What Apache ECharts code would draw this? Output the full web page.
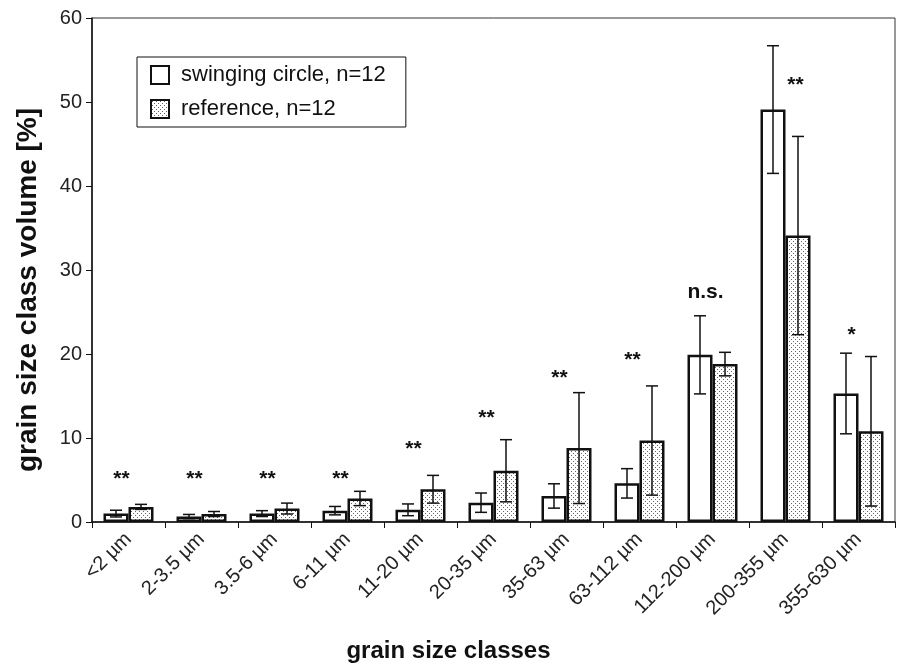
<!DOCTYPE html>
<html>
<head>
<meta charset="utf-8">
<script src="https://cdn.jsdelivr.net/npm/echarts@6/dist/echarts.min.js"></script>
<style>
  html, body { margin: 0; padding: 0; background: #fff; }
  #chart { width: 897px; height: 664px; }
</style>
</head>
<body>
<div id="chart"></div>
<script>
// grain size classes and group means / standard deviations (%)
const categories = ['<2 µm', '2-3.5 µm', '3.5-6 µm', '6-11 µm', '11-20 µm', '20-35 µm',
  '35-63 µm', '63-112 µm', '112-200 µm', '200-355 µm', '355-630 µm']
const swingingMean = [1.0, 0.65, 1.0, 1.35, 1.45, 2.3, 3.1, 4.6, 19.9, 49.1, 15.3]
const swingingSd = [0.4, 0.25, 0.35, 0.5, 0.7, 1.15, 1.45, 1.75, 4.65, 7.6, 4.8]
const referenceMean = [1.8, 0.95, 1.6, 2.8, 3.9, 6.1, 8.8, 9.7, 18.8, 34.1, 10.8]
const referenceSd = [0.3, 0.3, 0.65, 0.85, 1.65, 3.7, 6.6, 6.5, 1.4, 11.8, 8.9]
// significance marks and the height they sit at
const sigLabels = ['**', '**', '**', '**', '**', '**', '**', '**', 'n.s.', '**', '*']
const sigY = [5.4, 5.4, 5.4, 5.4, 9.0, 12.7, 17.5, 19.6, 27.3, 52.4, 22.6]
const yTicks = [0, 10, 20, 30, 40, 50, 60]

const FONT = 'Liberation Sans, Arial, sans-serif'
const BAR_W = 25

// dotted fill for the reference bars
const dots = document.createElement('canvas')
dots.width = 4
dots.height = 4
const ctx = dots.getContext('2d')
ctx.fillStyle = '#fff'
ctx.fillRect(0, 0, 4, 4)
ctx.fillStyle = '#666'
ctx.fillRect(1, 1, 1, 1)
ctx.fillRect(3, 3, 1, 1)

const errData = []
swingingMean.forEach((m, i) => errData.push([i, m, swingingSd[i], -1]))
referenceMean.forEach((m, i) => errData.push([i, m, referenceSd[i], 1]))

const sigData = sigLabels.map((s, i) => [i, sigY[i], s])

function renderErrorBar (params, api) {
  const i = api.value(0)
  const mean = api.value(1)
  const sd = api.value(2)
  const side = api.value(3)
  const x = api.coord([i, mean])[0] + side * BAR_W / 2
  const yTop = api.coord([i, mean + sd])[1]
  const yBot = api.coord([i, mean - sd])[1]
  const cap = 6
  const style = { stroke: '#111', lineWidth: 1.5 }
  return {
    type: 'group',
    children: [
      { type: 'line', shape: { x1: x, y1: yTop, x2: x, y2: yBot }, style },
      { type: 'line', shape: { x1: x - cap, y1: yTop, x2: x + cap, y2: yTop }, style },
      { type: 'line', shape: { x1: x - cap, y1: yBot, x2: x + cap, y2: yBot }, style }
    ]
  }
}

function renderSig (params, api) {
  const i = api.value(0)
  const txt = sigLabels[i]
  const pt = api.coord([i, api.value(1)])
  // the big class has its stars beside the tall error bar
  const dx = i === 9 ? 10 : -7
  const dy = txt === 'n.s.' ? 0 : 3
  return {
    type: 'text',
    x: pt[0] + dx,
    y: pt[1] + dy,
    style: {
      text: txt,
      fill: '#111',
      font: 'bold 21px ' + FONT,
      align: 'center',
      verticalAlign: 'middle'
    }
  }
}

const chart = echarts.init(document.getElementById('chart'))
chart.setOption({
  backgroundColor: '#fff',
  animation: false,
  grid: {
    left: 92, right: 2, top: 18, bottom: 142,
    outerBoundsMode: 'none',
    containLabel: false,
    show: true, borderColor: '#333', borderWidth: 1
  },
  legend: {
    data: ['swinging circle, n=12', 'reference, n=12'],
    orient: 'vertical',
    left: 137,
    top: 57,
    padding: [7, 20, 7, 13],
    itemWidth: 18,
    itemHeight: 18,
    itemGap: 12,
    borderColor: '#111',
    borderWidth: 1,
    icon: 'rect',
    textStyle: { fontSize: 22, fontFamily: FONT, color: '#111', padding: [0, 0, 0, 7] }
  },
  xAxis: {
    type: 'category',
    data: categories,
    axisLine: { lineStyle: { color: '#111', width: 1.5 } },
    axisTick: { show: true, alignWithLabel: false, length: 6, lineStyle: { color: '#111' } },
    axisLabel: {
      interval: 0, rotate: 45, fontSize: 20, fontFamily: FONT, color: '#222', margin: 14
    },
    name: 'grain size classes',
    nameLocation: 'middle',
    nameGap: 117,
    nameTextStyle: {
      fontSize: 24, fontWeight: 'bold', fontFamily: FONT, color: '#111', padding: [0, 90, 0, 0]
    }
  },
  yAxis: {
    type: 'value',
    min: yTicks[0],
    max: yTicks[yTicks.length - 1],
    interval: 10,
    axisLine: { show: true, lineStyle: { color: '#111', width: 1.5 } },
    axisTick: { show: true, length: 6, lineStyle: { color: '#111' } },
    splitLine: { show: false },
    axisLabel: { fontSize: 20, fontFamily: FONT, color: '#222', margin: 10 },
    name: 'grain size class volume [%]',
    nameLocation: 'middle',
    nameGap: 50,
    nameTextStyle: {
      fontSize: 28, fontWeight: 'bold', fontFamily: FONT, color: '#111', padding: [0, 40, 0, 0]
    }
  },
  series: [
    {
      name: 'swinging circle, n=12',
      type: 'bar',
      data: swingingMean,
      barWidth: BAR_W,
      barGap: '0%',
      itemStyle: { color: '#fff', borderColor: '#111', borderWidth: 2.5 }
    },
    {
      name: 'reference, n=12',
      type: 'bar',
      data: referenceMean,
      barWidth: BAR_W,
      barGap: '0%',
      itemStyle: {
        color: { image: dots, repeat: 'repeat' },
        borderColor: '#111',
        borderWidth: 2.5
      }
    },
    {
      type: 'custom',
      renderItem: renderErrorBar,
      data: errData,
      encode: { x: 0, y: 1 },
      z: 5,
      silent: true
    },
    {
      type: 'custom',
      renderItem: renderSig,
      data: sigData,
      encode: { x: 0, y: 1 },
      z: 5,
      silent: true
    }
  ]
})
</script>
</body>
</html>
